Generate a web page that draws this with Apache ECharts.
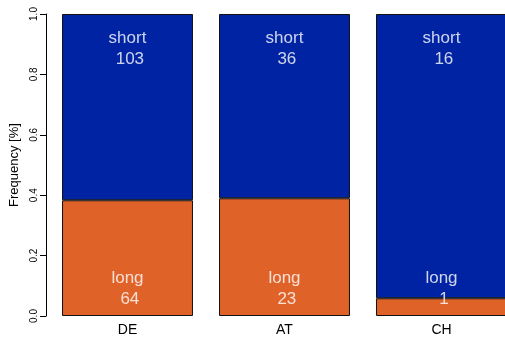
<!DOCTYPE html>
<html>
<head>
<meta charset="utf-8">
<script src="https://cdn.jsdelivr.net/npm/echarts@6/dist/echarts.min.js"></script>
<style>
  html, body { margin: 0; padding: 0; background: #ffffff; }
  #chart { width: 505px; height: 337px; }
</style>
</head>
<body>
<div id="chart"></div>
<script>
// Duration counts per country
const categories = ['DE', 'AT', 'CH'];
const longCounts = [64, 23, 1];
const shortCounts = [103, 36, 16];
const yTicks = [0, 0.2, 0.4, 0.6, 0.8, 1.0];
const yTitle = 'Frequency [%]';

// Relative frequencies (stacked to 1)
const totals = categories.map((_, i) => longCounts[i] + shortCounts[i]);
const longShare = longCounts.map((v, i) => v / totals[i]);
const shortShare = shortCounts.map((v, i) => v / totals[i]);

const FONT = '"Liberation Sans", Arial, sans-serif';
const BLUE = '#0023a3';
const ORANGE = '#df6229';

// Text labels sit at fixed heights inside the plot
const SHORT_LABEL_Y = 0.885;
const LONG_LABEL_Y = 0.09;

const labelStyle = {
  show: true,
  position: 'inside',
  color: '#ffffff',
  fontFamily: FONT,
  fontSize: 17,
  lineHeight: 21
};

const chart = echarts.init(document.getElementById('chart'), null, { renderer: 'canvas' });
chart.setOption({
  animation: false,
  backgroundColor: '#ffffff',
  grid: { left: 49, width: 471, top: 14, bottom: 21, containLabel: false, outerBoundsMode: 'none' },
  graphic: [
    {
      type: 'text',
      x: 14.5,
      y: 165,
      rotation: Math.PI / 2,
      style: {
        text: yTitle,
        fill: '#000',
        font: '13px "Liberation Sans", Arial, sans-serif',
        align: 'center',
        verticalAlign: 'middle'
      }
    }
  ],
  xAxis: {
    type: 'category',
    data: categories,
    axisLine: { show: false },
    axisTick: { show: false },
    axisLabel: { color: '#000', fontFamily: FONT, fontSize: 14, margin: 7 }
  },
  yAxis: {
    type: 'value',
    min: 0,
    max: 1,
    interval: 0.2,
    offset: 3,
    axisLine: { show: true, lineStyle: { color: '#000', width: 1 } },
    axisTick: { show: true, length: 6, lineStyle: { color: '#000' } },
    splitLine: { show: false },
    axisLabel: {
      color: '#000',
      fontFamily: FONT,
      fontSize: 10,
      rotate: 90,
      margin: 7,
      formatter: v => {
        const t = yTicks.find(x => Math.abs(x - v) < 1e-9);
        return t === undefined ? '' : t.toFixed(1);
      }
    }
  },
  series: [
    {
      name: 'long',
      type: 'bar',
      stack: 'freq',
      data: longShare,
      barCategoryGap: '16.6%',
      itemStyle: { color: ORANGE, borderColor: '#111', borderWidth: 1 },
      z: 2
    },
    {
      name: 'short',
      type: 'bar',
      stack: 'freq',
      data: shortShare,
      barCategoryGap: '16.6%',
      itemStyle: { color: BLUE, borderColor: '#111', borderWidth: 1 },
      z: 2
    },
    {
      name: 'shortText',
      type: 'scatter',
      symbolSize: 0,
      data: categories.map(c => [c, SHORT_LABEL_Y]),
      label: Object.assign({}, labelStyle, {
        formatter: p => 'short\n ' + shortCounts[p.dataIndex]
      }),
      z: 5
    },
    {
      name: 'longText',
      type: 'scatter',
      symbolSize: 0,
      data: categories.map(c => [c, LONG_LABEL_Y]),
      label: Object.assign({}, labelStyle, {
        formatter: p => 'long\n ' + longCounts[p.dataIndex]
      }),
      z: 5
    }
  ]
});
</script>
</body>
</html>
